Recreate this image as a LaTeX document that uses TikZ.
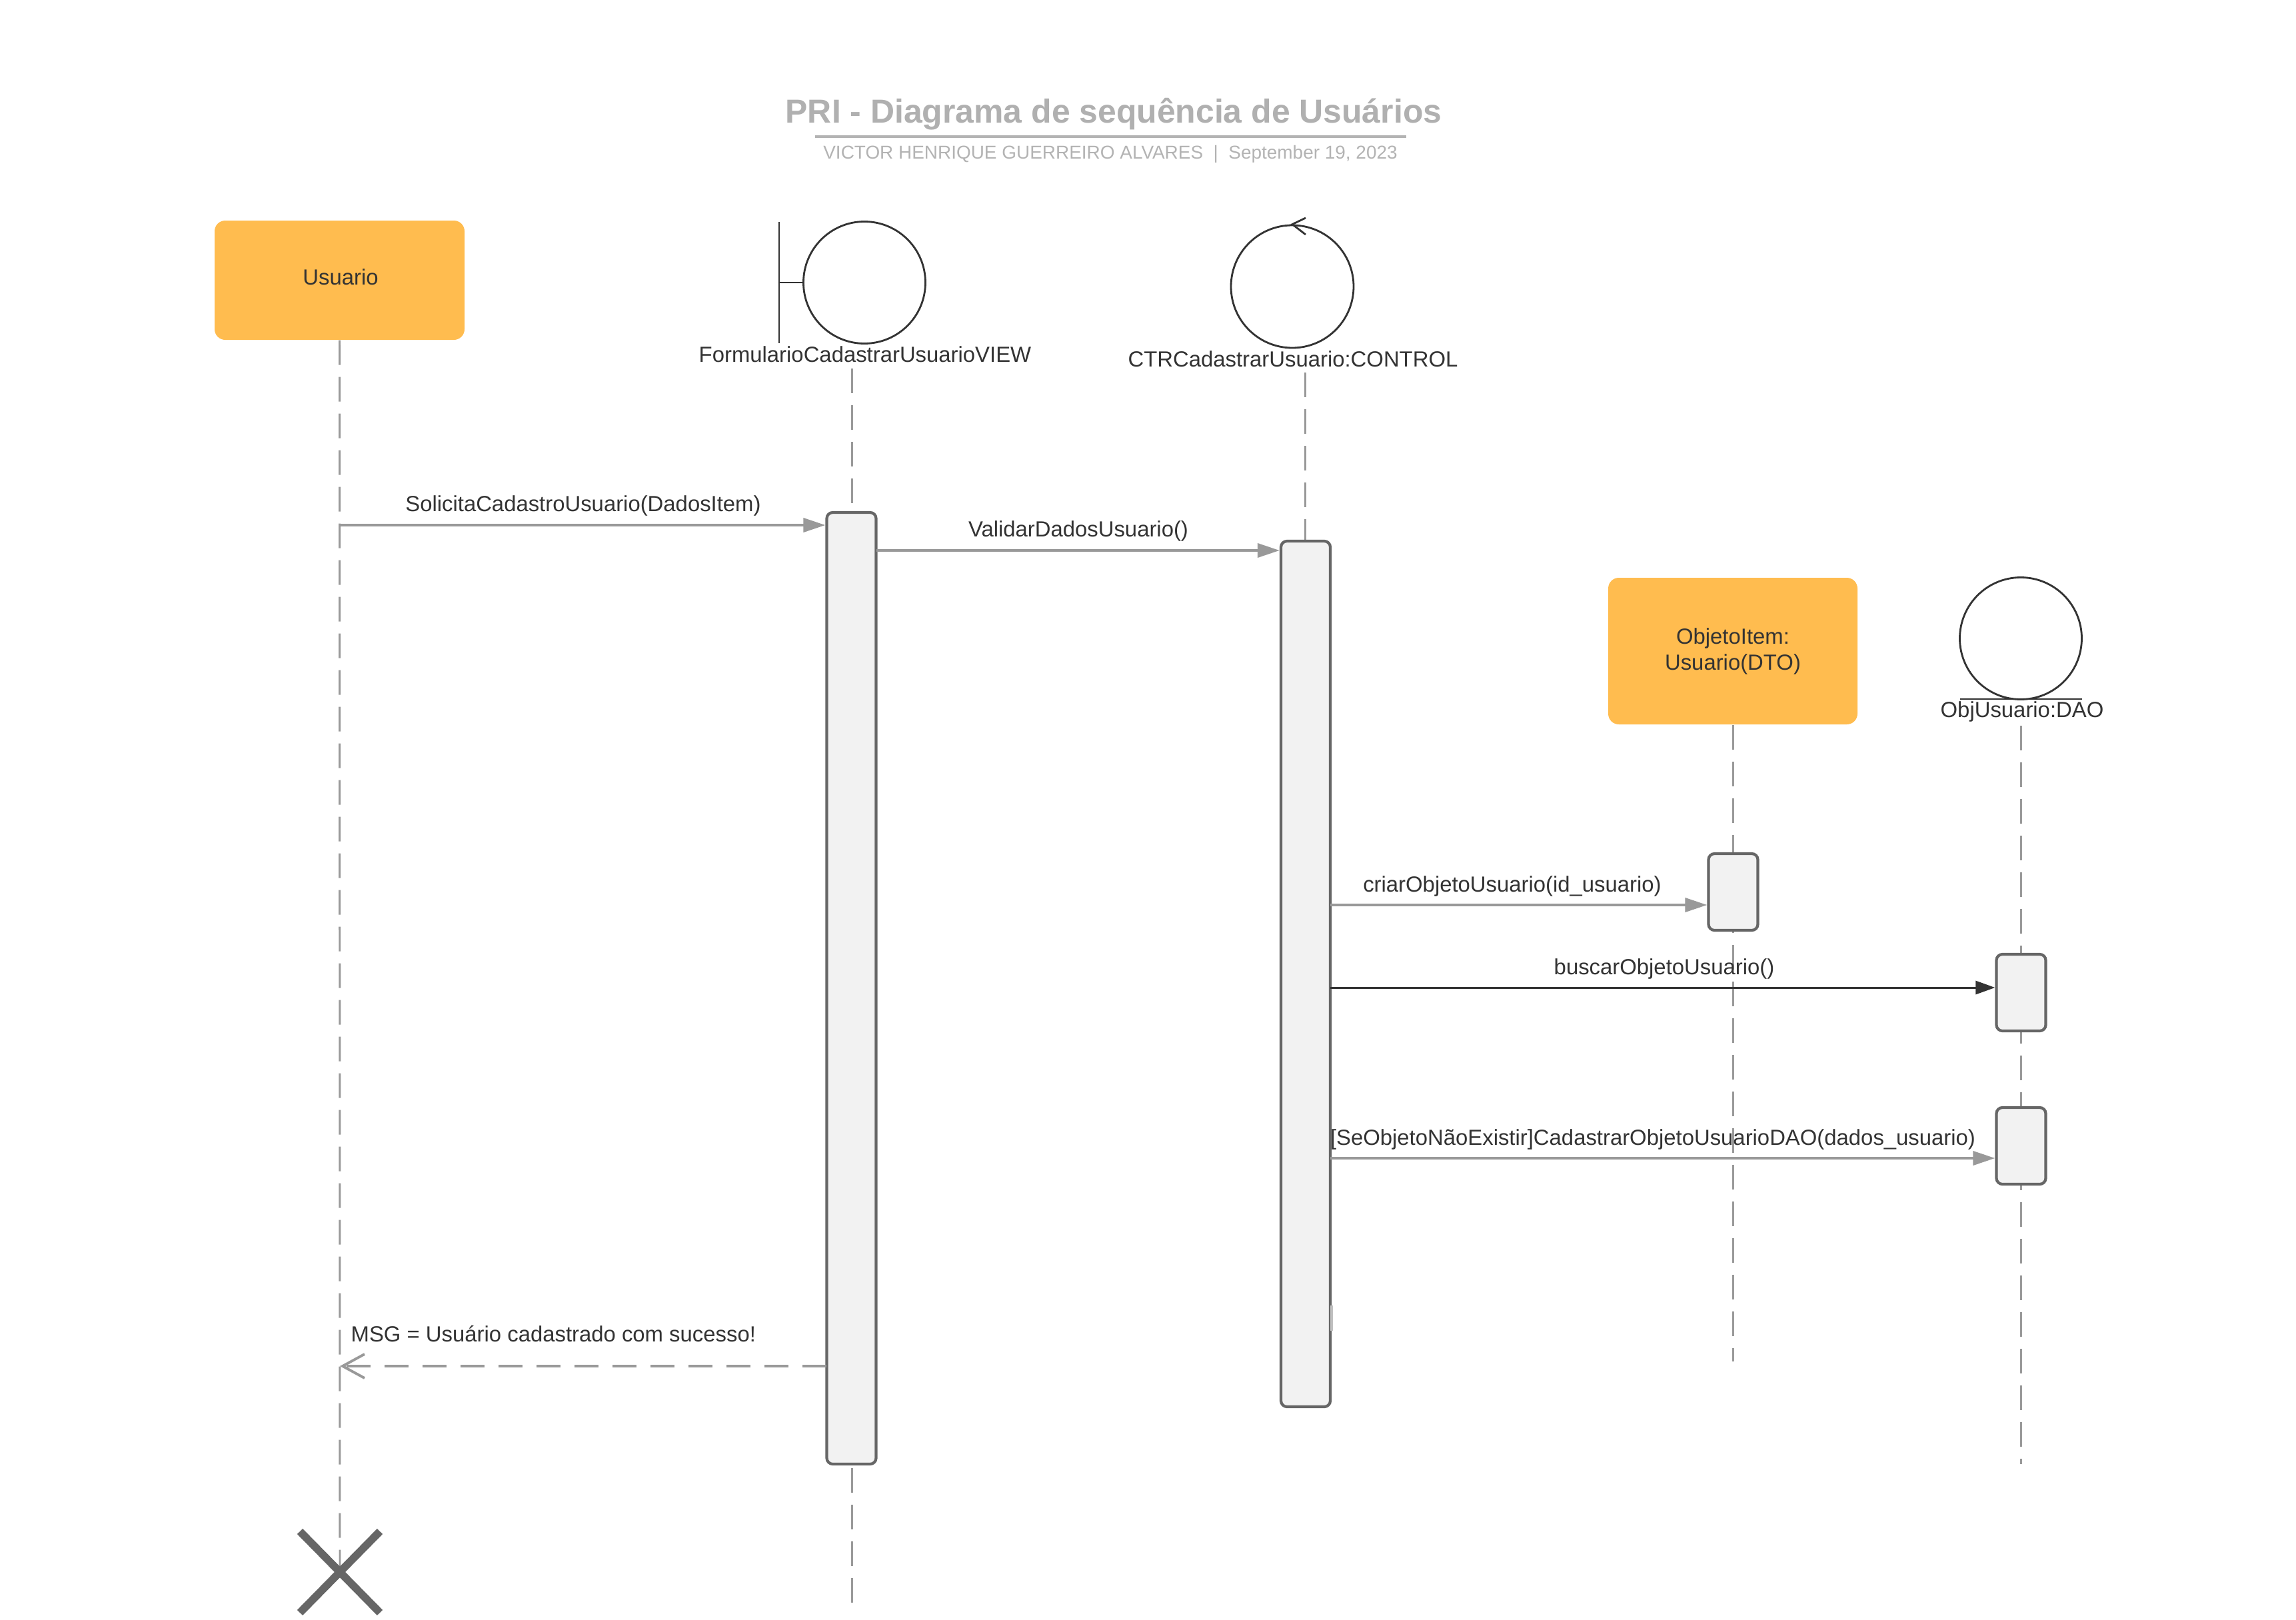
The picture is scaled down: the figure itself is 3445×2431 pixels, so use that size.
\documentclass[tikz,border=0pt]{standalone}
\usepackage{fontspec}
\setmainfont{Liberation Sans}
\usetikzlibrary{arrows.meta,shapes.misc}
\definecolor{orng}{HTML}{FFBC4F}
\definecolor{txt}{HTML}{333333}
\definecolor{conn}{HTML}{999999}
\definecolor{actstroke}{HTML}{666666}
\definecolor{actfill}{HTML}{F2F2F2}
\definecolor{ttl}{HTML}{B0B0B0}
\definecolor{sub}{HTML}{B3B3B3}
\definecolor{glyph}{HTML}{333333}
\begin{document}
\begin{tikzpicture}[x=0.1mm,y=-0.1mm,
  lbl/.style={font=\fontsize{9.35}{11.1}\selectfont, text=txt, inner sep=0pt},
  actor/.style={lbl, fill=orng, draw=none, rounded corners=1.6mm, align=center},
  life/.style={draw=conn, line width=0.85pt, dash pattern=on 3.7mm off 1.8mm},
  bar/.style={draw=actstroke, fill=actfill, line width=1.2pt, rounded corners=0.9mm,
    minimum width=7.4mm, inner sep=0pt},
  glyphline/.style={draw=glyph, line width=0.8pt},
  msg/.style={draw=conn, line width=1.1pt, -{Triangle[length=3.3mm,width=2.1mm]}},
  syncmsg/.style={draw=txt, line width=0.85pt, -{Triangle[length=2.9mm,width=2.0mm]}},
  retmsg/.style={draw=conn, line width=1.1pt, dash pattern=on 3.6mm off 2.1mm,
    -{Straight Barb[length=3.3mm,width=3.6mm]}},
]
\useasboundingbox (0,0) rectangle (3445,2431);

% ---- title ----
\node[font=\bfseries\fontsize{14.2}{16}\selectfont, text=ttl, inner sep=0pt] (title) at (1671,171)
  {PRI - Diagrama de sequência de Usuários};
\coordinate (ulA) at (1223,205);
\coordinate (ulB) at (2110,205);
\draw[draw=sub, line width=1.1pt] (ulA) -- (ulB);
\node[font=\fontsize{7.95}{9}\selectfont, text=sub, inner sep=0pt] (subtitle) at (1666,231)
  {VICTOR HENRIQUE GUERREIRO ALVARES\ \ |\ \ September 19, 2023};

% ---- actor Usuario ----
\node[actor, minimum width=37.5mm, minimum height=17.9mm] (u) at (509.5,420.5) {};
\node[lbl] (ulbl) at (511,416) {Usuario};

% ---- boundary (view) ----
\node[circle, glyphline, minimum size=18.3mm, inner sep=0pt] (vc) at (1297,424) {};
\coordinate (vbT) at (1169,333);
\coordinate (vbB) at (1169,515);
\coordinate (vbM) at (1169,424);
\draw[glyphline] (vbT) -- (vbB);
\draw[glyphline] (vbM) -- (vc.west);
\node[lbl] (vlbl) at (1298,532) {FormularioCadastrarUsuarioVIEW};

% ---- control ----
\node[circle, glyphline, minimum size=18.4mm, inner sep=0pt] (cc) at (1939,430) {};
\coordinate (chA) at (1959,327);
\coordinate (chB) at (1959,352);
\draw[glyphline] (chA) -- (cc.north) -- (chB);
\node[lbl] (clbl) at (1940,539) {CTRCadastrarUsuario:CONTROL};

% ---- DTO object ----
\node[actor, minimum width=37.4mm, minimum height=22mm] (dto) at (2600,977) {ObjetoItem:\\Usuario(DTO)};

% ---- entity (DAO) ----
\node[circle, glyphline, minimum size=18.3mm, inner sep=0pt] (ec) at (3032,958) {};
\coordinate (euA) at (2941,1049);
\coordinate (euB) at (3124,1049);
\draw[glyphline] (euA) -- (euB);
\node[lbl] (elbl) at (3034,1068) {ObjUsuario:DAO};

% ---- lifelines ----
\coordinate (xc) at (510,2359);
\coordinate (vlT) at (1278,553);
\coordinate (vlE) at (1278,2420);
\coordinate (clT) at (1958,559);
\coordinate (clE) at (1958,2100);
\coordinate (dlE) at (2600,2043);
\coordinate (elT) at (3032,1089);
\coordinate (elE) at (3032,2197);
\draw[life] (u.south) -- (xc);
\draw[life] (vlT) -- (vlE);
\draw[life] (clT) -- (clE);
\draw[life] (dto.south) -- (dlE);
\draw[life] (elT) -- (elE);
\node[cross out, draw=actstroke, line width=3.3pt, minimum width=12mm, minimum height=12.2mm,
  inner sep=0pt, outer sep=0pt] (xend) at (xc) {};

% ---- activation bars ----
\node[bar, minimum height=142.8mm] (vbar) at (1277.5,1483) {};
\node[bar, minimum height=129.9mm] (cbar) at (1959,1461.5) {};
\node[bar, minimum height=11.5mm] (dtobar) at (2600.5,1338.5) {};
\node[bar, minimum height=11.5mm] (dao1) at (3032.5,1489.5) {};
\node[bar, minimum height=11.5mm] (dao2) at (3032.5,1719.5) {};
\coordinate (artA) at (1998,1959);
\coordinate (artB) at (1998,1997);
\draw[draw=black!25, line width=1pt] (artA) -- (artB);

% ---- messages ----
\coordinate (m1) at (510,788);
\draw[msg] (m1) -- (m1 -| vbar.west);
\node[lbl] (m1l) at (875,759) {SolicitaCadastroUsuario(DadosItem)};

\coordinate (m2) at (1315,826);
\draw[msg] (m2) -- (m2 -| cbar.west);
\node[lbl] (m2l) at (1618,797) {ValidarDadosUsuario()};

\coordinate (m3) at (1996,1358);
\draw[msg] (m3) -- (m3 -| dtobar.west);
\node[lbl] (m3l) at (2269,1330) {criarObjetoUsuario(id\_usuario)};

\coordinate (m4) at (1996,1482);
\draw[syncmsg] (m4) -- (m4 -| dao1.west);
\node[lbl] (m4l) at (2497,1454) {buscarObjetoUsuario()};

\coordinate (m5) at (1996,1738);
\draw[msg] (m5) -- (m5 -| dao2.west);
\node[lbl] (m5l) at (2480,1710) {[SeObjetoNãoExistir]CadastrarObjetoUsuarioDAO(dados\_usuario)};

\coordinate (r1) at (1240,2050);
\coordinate (r1e) at (510,2050);
\draw[retmsg] (r1) -- (r1e);
\node[lbl, anchor=west] (rl) at (526,2002) {MSG = Usuário cadastrado com sucesso!};
\end{tikzpicture}
\end{document}
